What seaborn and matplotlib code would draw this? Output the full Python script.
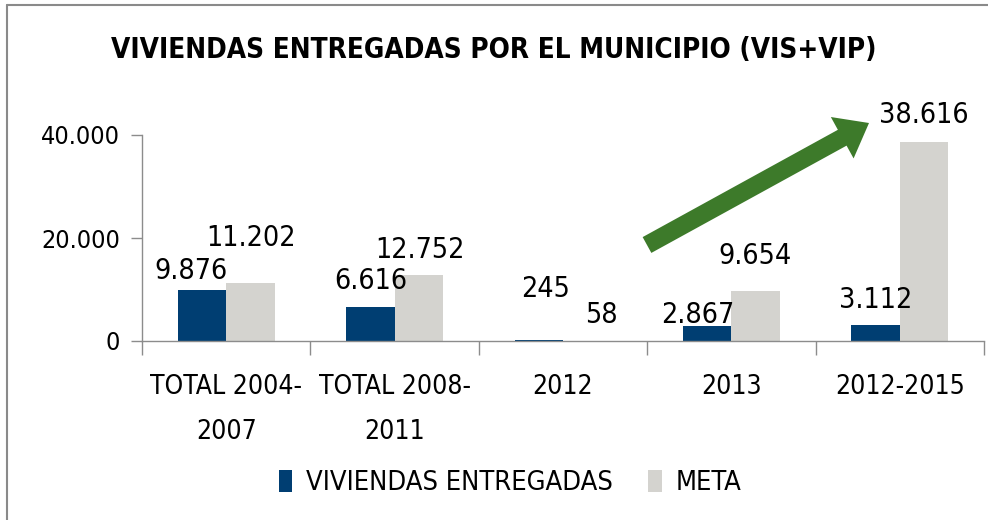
import pandas as pd
import seaborn as sns
import matplotlib.pyplot as plt
from matplotlib.patches import FancyArrowPatch, Patch
from matplotlib.lines import Line2D
from matplotlib.ticker import FuncFormatter

# --------------------
# Data
# --------------------
CATEGORIAS = ["TOTAL 2004-\n2007", "TOTAL 2008-\n2011", "2012", "2013", "2012-2015"]
ENTREGADAS = [9876, 6616, 245, 2867, 3112]
META = [11202, 12752, 58, 9654, 38616]
SERIES = ["VIVIENDAS ENTREGADAS", "META"]
Y_TICKS = [0, 20000, 40000]

# --------------------
# Style
# --------------------
AZUL = "#003E72"
GRIS = "#D4D3CF"
VERDE = "#3D7A2A"
EJE = "#8C8C8C"

# label offsets (pixels) per bar, as moved by hand in the original
DX_AZUL = [-11, 0, 7, -9, 0]
DY_AZUL = [11, 18, 43, 3, 17]
DX_GRIS = [1, 1, 14, -1, 0]
DY_GRIS = [37, 17, 18, 27, 19]


def miles(v, _=None):
    return f"{int(v):,}".replace(",", ".")


def main():
    sns.set_theme(style="white")
    plt.rcParams["font.family"] = ["DejaVu Sans"]
    plt.rcParams["font.stretch"] = "condensed"
    for k in ["text.color", "xtick.color", "ytick.color", "axes.labelcolor"]:
        plt.rcParams[k] = "black"

    df = pd.DataFrame({
        "categoria": CATEGORIAS * 2,
        "valor": ENTREGADAS + META,
        "serie": [SERIES[0]] * len(CATEGORIAS) + [SERIES[1]] * len(CATEGORIAS),
    })

    fig = plt.figure(figsize=(9.88, 5.2), dpi=100)
    ax = fig.add_axes([142 / 988, 1 - 341 / 520, 842 / 988, 206 / 520])

    sns.barplot(data=df, x="categoria", y="valor", hue="serie",
                palette=[AZUL, GRIS], width=0.576, gap=0, saturation=1,
                ax=ax, legend=False, linewidth=0)

    ax.set_xlim(-0.5, 4.5)
    ax.set_ylim(0, 40000)
    ax.set_yticks(Y_TICKS)
    ax.yaxis.set_major_formatter(FuncFormatter(miles))
    ax.set_xlabel("")
    ax.set_ylabel("")

    # x ticks at category boundaries, labels at centers
    ax.set_xticks([i - 0.5 for i in range(len(CATEGORIAS) + 1)])
    ax.set_xticklabels([])
    ax.set_xticks(range(len(CATEGORIAS)), minor=True)
    ax.set_xticklabels(CATEGORIAS, minor=True, fontsize=19, linespacing=1.95)
    ax.tick_params(axis="x", which="minor", length=0, pad=24)
    ax.tick_params(axis="x", which="major", length=10, width=1, color=EJE, direction="out")
    ax.tick_params(axis="y", length=8, width=1, color=EJE, direction="out", pad=8, labelsize=18)
    ax.tick_params(bottom=True, left=True)

    for s in ["top", "right"]:
        ax.spines[s].set_visible(False)
    for s in ["left", "bottom"]:
        ax.spines[s].set_color(EJE)
        ax.spines[s].set_linewidth(1)

    # data labels
    for cont, dxs, dys in zip(ax.containers, [DX_AZUL, DX_GRIS], [DY_AZUL, DY_GRIS]):
        for bar, dx, dy in zip(cont, dxs, dys):
            h = bar.get_height()
            ax.annotate(miles(h), (bar.get_x() + bar.get_width() / 2, h),
                        xytext=(dx, dy), textcoords="offset pixels",
                        ha="center", va="baseline", fontsize=20.5,
                        color="black", clip_on=False, annotation_clip=False)

    fig.text(0.5, 1 - 50 / 520, "VIVIENDAS ENTREGADAS POR EL MUNICIPIO (VIS+VIP)",
             ha="center", va="center", fontsize=20, fontweight="bold")

    # green arrow
    flecha = FancyArrowPatch((647 / 988, 1 - 245 / 520), (869 / 988, 1 - 123 / 520),
                             transform=fig.transFigure,
                             arrowstyle="simple,head_length=22,head_width=34,tail_width=13",
                             mutation_scale=1, shrinkA=0, shrinkB=0,
                             color=VERDE, lw=0)
    fig.patches.append(flecha)

    # legend
    handles = [Patch(facecolor=AZUL, edgecolor="none"), Patch(facecolor=GRIS, edgecolor="none")]
    fig.legend(handles, SERIES, loc="center", bbox_to_anchor=(510 / 988, 1 - 483 / 520),
               ncol=2, frameon=False, fontsize=19.5, handlelength=0.5, handleheight=0.9,
               handletextpad=0.5, columnspacing=1.3)

    # chart frame (left and top edges)
    fig.add_artist(Line2D([7 / 988, 7 / 988], [0, 1 - 5 / 520], transform=fig.transFigure,
                          color="#8A8A8A", lw=1.5))
    fig.add_artist(Line2D([7 / 988, 1], [1 - 5 / 520, 1 - 5 / 520], transform=fig.transFigure,
                          color="#8A8A8A", lw=1.5))

    fig.savefig("out.png", dpi=100)
    plt.close(fig)


if __name__ == "__main__":
    main()
